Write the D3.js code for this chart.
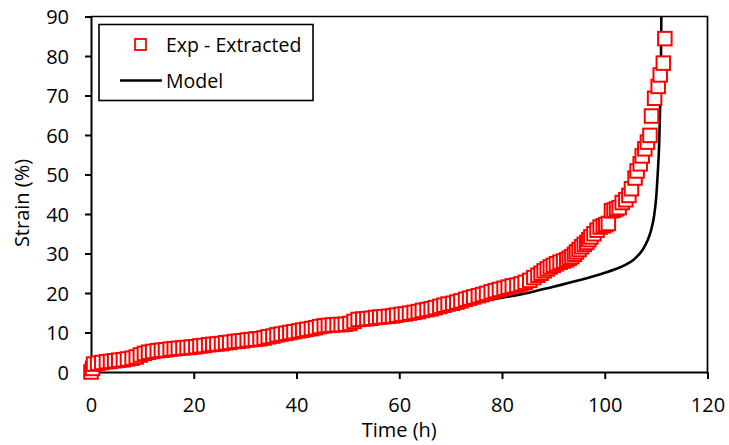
<!DOCTYPE html>
<html>
<head>
<meta charset="utf-8">
<script src="https://cdn.jsdelivr.net/npm/d3@7"></script>
<style>
  body { margin: 0; background: #fff; }
  svg text { font-family: "Open Sans", sans-serif; fill: #000; }
</style>
</head>
<body>
<svg width="729" height="445"></svg>
<script>
var expTime = [0, 0.3, 0.5, 1.3, 2.1, 3.0, 3.8, 4.6, 5.4, 6.3, 7.1, 8.0, 8.8, 9.6, 10.4, 11.2, 12.0, 12.9, 13.7, 14.5,
  15.4, 16.2, 17.0, 17.9, 18.7, 19.5, 20.4, 21.2, 22.0, 22.9, 23.7, 24.5, 25.4, 26.2, 27.0, 27.9, 28.7, 29.5, 30.4, 31.2,
  32.0, 32.9, 33.7, 34.5, 35.4, 36.2, 37.0, 37.9, 38.7, 39.5, 40.4, 41.2, 42.0, 42.9, 43.7, 44.5, 45.4, 46.2, 47.0, 47.9,
  48.7, 49.5, 50.4, 51.2, 52.0, 52.9, 53.7, 54.5, 55.4, 56.2, 57.0, 57.9, 58.7, 59.5, 60.4, 61.2, 62.0, 62.9, 63.7, 64.5,
  65.4, 66.2, 67.0, 67.9, 68.7, 69.5, 70.4, 71.2, 72.0, 72.9, 73.7, 74.5, 75.4, 76.2, 77.0, 77.9, 78.7, 79.5, 80.4, 81.2,
  82.0, 82.9, 83.7, 84.5, 85.4, 86.2, 87.0, 87.6, 88.2, 88.8, 89.4, 90.0, 90.6, 91.3, 92.0, 92.6, 93.1, 93.6, 94.1, 94.5,
  95.0, 95.5, 96.0, 96.5, 96.9, 97.3, 97.9, 98.5, 99.1, 99.7, 100.2, 100.7, 101.3, 101.8, 102.3, 102.8, 103.4, 104.1, 104.7, 105.2,
  105.9, 106.3, 106.9, 107.3, 107.8, 108.3, 108.8, 109.1, 109.7, 110.4, 110.8, 111.4, 111.7];
var expStrain = [0, 0.9, 2.0, 2.2, 2.4, 2.6, 2.7, 2.85, 3.0, 3.1, 3.3, 3.5, 3.8, 4.3, 4.7, 5.0, 5.2, 5.4, 5.5, 5.6,
  5.8, 5.9, 6.0, 6.1, 6.2, 6.3, 6.4, 6.6, 6.7, 6.9, 7.0, 7.1, 7.2, 7.4, 7.5, 7.7, 7.8, 7.9, 8.1, 8.2,
  8.3, 8.4, 8.6, 8.9, 9.1, 9.4, 9.6, 9.8, 10.0, 10.2, 10.4, 10.6, 10.8, 11.0, 11.2, 11.5, 11.7, 11.8, 11.9, 12.0,
  12.0, 12.1, 12.3, 12.8, 13.3, 13.4, 13.5, 13.6, 13.8, 13.9, 14.0, 14.1, 14.2, 14.4, 14.6, 14.7, 14.9, 15.1, 15.3, 15.6,
  15.8, 16.0, 16.3, 16.6, 16.9, 17.2, 17.4, 17.7, 18.0, 18.4, 18.7, 19.0, 19.3, 19.6, 19.9, 20.3, 20.6, 20.9, 21.2, 21.5,
  21.8, 22.0, 22.3, 22.7, 23.2, 23.9, 24.5, 25.0, 25.6, 26.1, 26.6, 27.0, 27.4, 27.8, 28.1, 28.4, 28.8, 29.2, 29.8, 30.4,
  31.0, 31.7, 32.3, 32.8, 33.5, 34.2, 35.0, 35.9, 36.7, 37.0, 37.3, 37.6, 40.8, 41.0, 41.3, 41.6, 42.9, 43.6, 44.7, 46.4,
  49.1, 50.9, 52.7, 54.7, 56.5, 58.2, 59.9, 64.8, 69.3, 72.3, 75.2, 78.2, 84.4];

// model curve
var modelTime = [0, 1, 2, 4, 6, 8, 10, 15, 20, 25, 30, 35, 40, 45, 50, 55, 60, 65, 70, 75,
  80, 85, 90, 95, 100, 102, 104, 105.5, 106.5, 107.5, 108.3, 109, 109.6, 110, 110.3, 110.6, 110.8, 110.95, 111.05];
var modelStrain = [0, 1.2, 2.0, 3.0, 3.8, 4.5, 5.2, 6.5, 7.7, 8.7, 9.7, 10.6, 11.5, 12.3, 13.2, 14.0, 14.8, 15.7, 16.7, 17.7,
  18.8, 20.0, 21.6, 23.2, 25.1, 26.0, 27.1, 28.3, 29.5, 31.2, 33.2, 35.8, 39.5, 44, 50, 58, 68, 80, 95];

var xTicks = [0, 20, 40, 60, 80, 100, 120];
var yTicks = [0, 10, 20, 30, 40, 50, 60, 70, 80, 90];
var seriesNames = ["Exp - Extracted", "Model"];

var svg = d3.select("svg"),
    pLeft = 91, pRight = 707.5, pTop = 16.5, pBottom = 372;

var x = d3.scaleLinear().domain([0, 120]).range([pLeft, pRight]);
var y = d3.scaleLinear().domain([0, 90]).range([pBottom, pTop]);

// plot frame (top + right)
svg.append("path")
    .attr("d", "M" + pLeft + "," + pTop + "H" + pRight + "V" + pBottom)
    .attr("fill", "none")
    .attr("stroke", "#000")
    .attr("stroke-width", 1.7);

var xAxis = d3.axisBottom(x).tickValues(xTicks).tickSize(7).tickPadding(19).tickSizeOuter(0);
var yAxis = d3.axisLeft(y).tickValues(yTicks).tickSize(6).tickPadding(16).tickSizeOuter(0);

var gx = svg.append("g")
    .attr("transform", "translate(0," + pBottom + ")")
    .call(xAxis);
var gy = svg.append("g")
    .attr("transform", "translate(" + pLeft + ",0)")
    .call(yAxis);

[gx, gy].forEach(function(g) {
  g.selectAll(".domain").attr("stroke-width", 2);
  g.selectAll(".tick line").attr("stroke-width", 2);
  g.selectAll(".tick text")
    .style("font-size", "20px")
    .style("font-family", "'Open Sans', sans-serif");
});
gy.selectAll(".tick text").attr("dy", "0.36em");

svg.append("text")
    .attr("x", (pLeft + pRight) / 2)
    .attr("y", 437)
    .attr("text-anchor", "middle")
    .style("font-size", "20px")
    .text("Time (h)");

svg.append("text")
    .attr("transform", "translate(22,203) rotate(-90)")
    .attr("text-anchor", "middle")
    .attr("dy", "0.36em")
    .style("font-size", "20px")
    .text("Strain (%)");

// clip for model line
svg.append("clipPath").attr("id", "plotclip")
  .append("rect")
    .attr("x", pLeft).attr("y", pTop)
    .attr("width", pRight - pLeft).attr("height", pBottom - pTop);

var modelData = modelTime.map(function(t, i) { return {t: t, s: modelStrain[i]}; });
var line = d3.line()
    .x(function(d) { return x(d.t); })
    .y(function(d) { return y(d.s); })
    .curve(d3.curveMonotoneX);

svg.append("path")
    .datum(modelData)
    .attr("clip-path", "url(#plotclip)")
    .attr("fill", "none")
    .attr("stroke", "#000")
    .attr("stroke-width", 2.6)
    .attr("stroke-linejoin", "round")
    .attr("d", line);

var expData = expTime.map(function(t, i) { return {t: t, s: expStrain[i]}; });
var m = 13.5;
svg.append("g").selectAll("rect")
    .data(expData)
    .enter().append("rect")
    .attr("x", function(d) { return x(d.t) - m / 2; })
    .attr("y", function(d) { return y(d.s) - m / 2; })
    .attr("width", m)
    .attr("height", m)
    .attr("fill", "#fff")
    .attr("stroke", "#ff0000")
    .attr("stroke-width", 2);

// legend
var lg = svg.append("g");
lg.append("rect")
    .attr("x", 99).attr("y", 24.5)
    .attr("width", 214).attr("height", 76)
    .attr("fill", "#fff")
    .attr("stroke", "#000")
    .attr("stroke-width", 1.6);
lg.append("rect")
    .attr("x", 135).attr("y", 39)
    .attr("width", 11).attr("height", 11)
    .attr("fill", "#fff")
    .attr("stroke", "#ff0000")
    .attr("stroke-width", 1.8);
lg.append("line")
    .attr("x1", 120).attr("x2", 162)
    .attr("y1", 80.5).attr("y2", 80.5)
    .attr("stroke", "#000")
    .attr("stroke-width", 2.6);
lg.selectAll("text.lab")
    .data(seriesNames)
    .enter().append("text")
    .attr("class", "lab")
    .attr("x", 166)
    .attr("y", function(d, i) { return i === 0 ? 44.5 : 80.5; })
    .attr("dy", "0.36em")
    .style("font-size", "19.5px")
    .text(function(d) { return d; });
</script>
</body>
</html>
